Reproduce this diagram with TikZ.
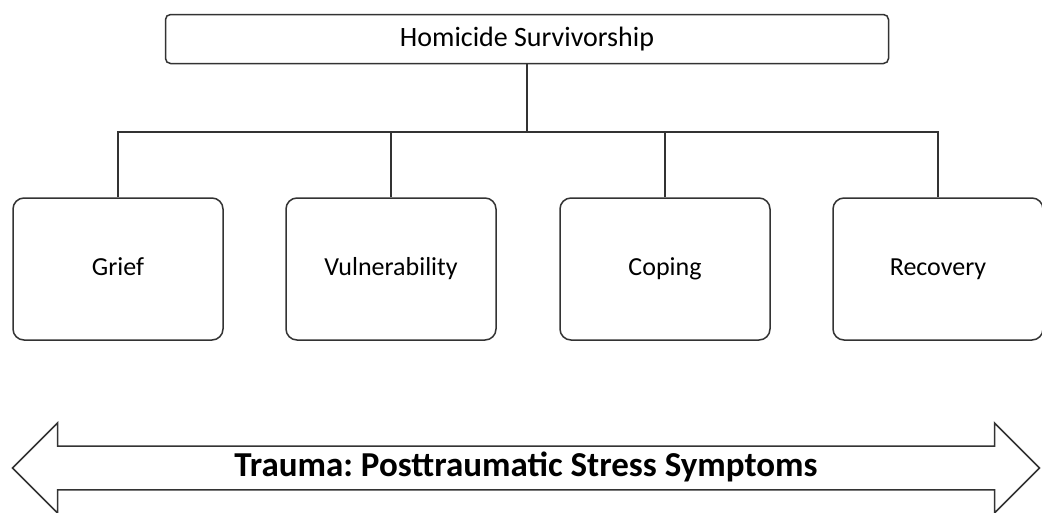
\documentclass[tikz,border=0pt]{standalone}
\usepackage{fontspec}
\setmainfont{Carlito}
\usepackage{xcolor}
\definecolor{linegray}{HTML}{333333}
\usetikzlibrary{arrows.meta,positioning,shapes.arrows}
\frenchspacing
\tikzset{
  topnode/.style={
    rectangle, rounded corners=5pt, draw=linegray, line width=1.5pt,
    fill=white, align=center, minimum width=723pt,
    minimum height=49pt, font=\fontsize{28}{32}\selectfont,
    text height=19pt, text depth=5pt
  },
  themenode/.style={
    rectangle, rounded corners=11pt, draw=linegray, line width=1.5pt,
    fill=white, align=center, minimum width=210pt,
    minimum height=142pt, font=\fontsize{26}{30}\selectfont,
    text height=18pt, text depth=6pt
  },
  link/.style={line width=1.4pt, draw=linegray},
  bigarrow/.style={
    double arrow, draw=linegray, line width=1.5pt, fill=white,
    minimum height=1027pt, minimum width=90pt, inner ysep=3pt,
    double arrow head extend=21.5pt, double arrow tip angle=90,
    font=\bfseries\fontsize{35}{40}\selectfont,
    text height=25pt, text depth=8pt
  }
}

\begin{document}
\begin{tikzpicture}[x=1pt,y=-1pt]
  \useasboundingbox (0,0) rectangle (1042,512);

  \node[topnode] (homicide) at (527,39) {Homicide Survivorship};

  \node[themenode] (grief) at (118,269) {Grief};
  \node[themenode] (vulnerability) at (391,269) {Vulnerability};
  \node[themenode] (coping) at (665,269) {Coping};
  \node[themenode] (recovery) at (938,269) {Recovery};

  \coordinate (split) at (homicide.south |- 0,132);
  \draw[link] (homicide.south) -- (split);
  \draw[link] (grief.north) |- (split) -| (recovery.north);
  \draw[link] (vulnerability.north) -- (vulnerability.north |- split);
  \draw[link] (coping.north) -- (coping.north |- split);

  \node[bigarrow] (trauma) at (526,468) {Trauma: Posttraumatic Stress Symptoms};
\end{tikzpicture}
\end{document}
